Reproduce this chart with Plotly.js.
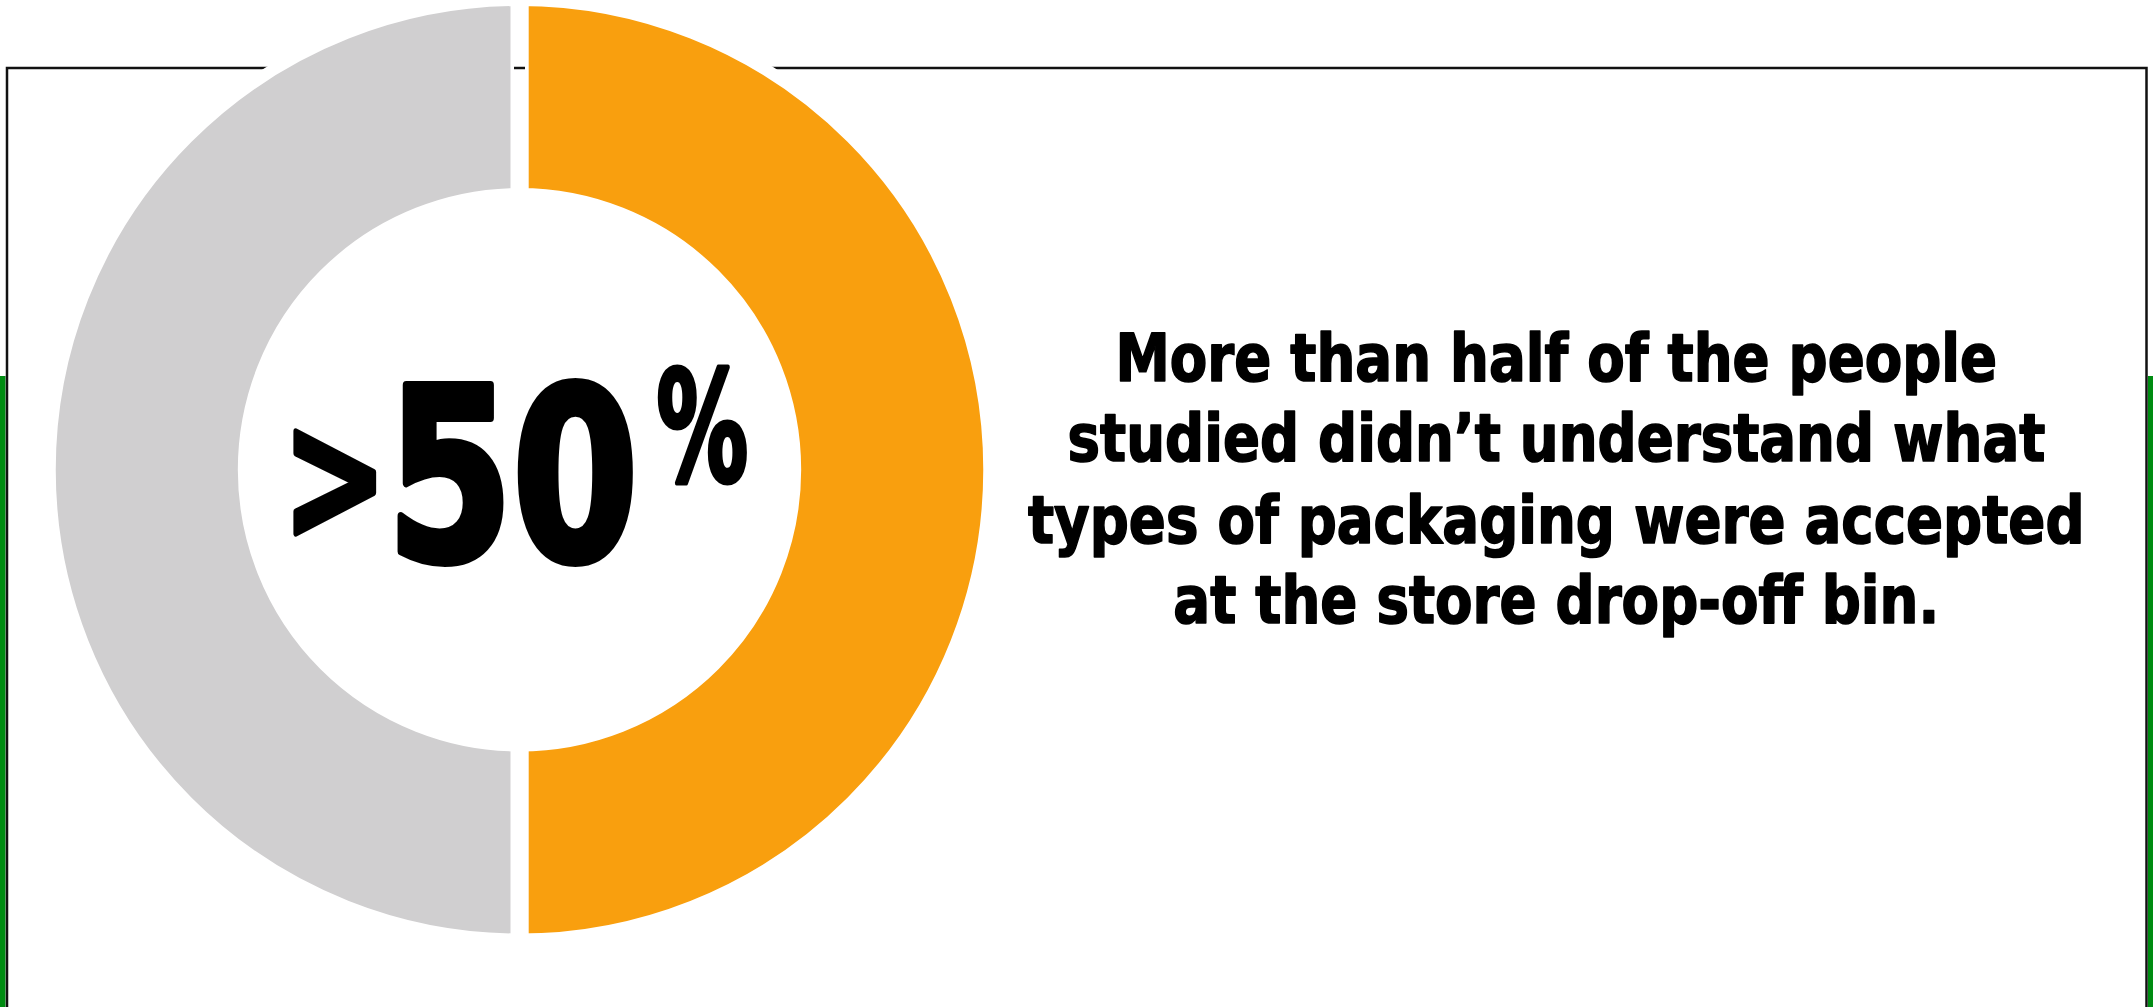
<!DOCTYPE html>
<html>
<head>
<meta charset="utf-8">
<script src="https://cdn.plot.ly/plotly-3.0.1.min.js"></script>
<style>
  html, body { margin: 0; padding: 0; background: #ffffff; overflow: hidden; }
  #chart { width: 2153px; height: 1007px; }
</style>
</head>
<body>
<div id="chart"></div>
<script>
// ---- data ----
const categories = ["Didn\u2019t understand accepted packaging", "Other"];
const values = [50, 50];
const sliceColors = ["#F99F0E", "#D0CFD0"];
const bigPrefix = ">";
const bigNumber = "50";
const bigUnit = "%";
const captionLines = [
  "More than half of the people",
  "studied didn\u2019t understand what",
  "types of packaging were accepted",
  "at the store drop-off bin."
];

// ---- layout geometry (pixels) ----
const W = 2153, H = 1007;
const cx = 519.5, cyTop = 467.5;
const STROKE = 12;
const R = 466 + STROKE / 2;
const px = x => x / W;
const py = y => 1 - y / H;   // y measured from top

const FONT = "'Liberation Sans Narrow', 'DejaVu Sans Condensed', 'DejaVu Sans', sans-serif";

const trace = {
  type: "pie",
  labels: categories,
  values: values,
  sort: false,
  direction: "clockwise",
  rotation: 0,
  hole: (283 - STROKE / 2) / R,
  textinfo: "none",
  hoverinfo: "none",
  showlegend: false,
  marker: { colors: sliceColors, line: { color: "#ffffff", width: STROKE } },
  domain: {
    x: [px(cx - R), px(cx + R)],
    y: [py(cyTop + R), py(cyTop - R)]
  }
};

// text effects per annotation: horizontal condense + stroke thickening
const captionCenters = [358, 439, 520, 600];
const textFx = [];
const annotations = captionLines.map((t, i) => {
  textFx.push({ sx: 0.92, sw: 1.6 });
  return {
    text: t,
    xref: "paper", yref: "paper",
    x: px(1556), y: py(captionCenters[i]),
    xanchor: "center", yanchor: "middle",
    showarrow: false,
    font: { family: FONT, size: 66, color: "#000000", weight: "bold" }
  };
});

annotations.push({
  text: bigPrefix,
  xref: "paper", yref: "paper",
  x: px(335), y: py(476),
  xanchor: "center", yanchor: "middle",
  showarrow: false,
  font: { family: FONT, size: 180, color: "#000000", weight: "bold" }
});
textFx.push({ sx: 0.77, sw: 6 });

annotations.push({
  text: bigNumber,
  xref: "paper", yref: "paper",
  x: px(512), y: py(476.5),
  xanchor: "center", yanchor: "middle",
  showarrow: false,
  font: { family: FONT, size: 239, color: "#000000", weight: "bold" }
});
textFx.push({ sx: 0.84, sw: 8 });

annotations.push({
  text: bigUnit,
  xref: "paper", yref: "paper",
  x: px(702), y: py(427),
  xanchor: "center", yanchor: "middle",
  showarrow: false,
  font: { family: FONT, size: 154, color: "#000000", weight: "bold" }
});
textFx.push({ sx: 0.66, sw: 5 });

const gapX0 = 510.5, gapX1 = 528.7;
const shapes = [
  // green side strips
  { type: "rect", xref: "paper", yref: "paper", layer: "below",
    x0: 0, x1: px(5.5), y0: py(1007), y1: py(376),
    fillcolor: "#008C12", line: { width: 0 } },
  { type: "rect", xref: "paper", yref: "paper", layer: "below",
    x0: px(2148), x1: 1, y0: py(1007), y1: py(376),
    fillcolor: "#008C12", line: { width: 0 } },
  // black frame
  { type: "rect", xref: "paper", yref: "paper", layer: "below",
    x0: px(7), x1: px(2146.5), y0: py(1015), y1: py(68),
    fillcolor: "rgba(0,0,0,0)", line: { color: "#111111", width: 2.5 } },
  // white gaps between the two halves of the ring
  { type: "rect", xref: "paper", yref: "paper", layer: "above",
    x0: px(gapX0), x1: px(gapX1), y0: py(200), y1: py(-5),
    fillcolor: "#ffffff", line: { width: 0 } },
  { type: "rect", xref: "paper", yref: "paper", layer: "above",
    x0: px(gapX0), x1: px(gapX1), y0: py(945), y1: py(735),
    fillcolor: "#ffffff", line: { width: 0 } },
  // frame line glimpse visible through the top gap
  { type: "line", xref: "paper", yref: "paper", layer: "above",
    x0: px(514), x1: px(525), y0: py(68), y1: py(68),
    line: { color: "#111111", width: 2.5 } }
];

const layout = {
  width: W, height: H,
  margin: { l: 0, r: 0, t: 0, b: 0, pad: 0 },
  paper_bgcolor: "#ffffff",
  plot_bgcolor: "#ffffff",
  showlegend: false,
  annotations: annotations,
  shapes: shapes
};

Plotly.newPlot("chart", [trace], layout, { displayModeBar: false, staticPlot: true }).then(() => {
  document.querySelectorAll("g.annotation").forEach(g => {
    const idx = +g.getAttribute("data-index");
    const fx = textFx[idx];
    if (!fx) return;
    const txt = g.querySelector("text.annotation-text");
    if (!txt) return;
    const bb = txt.getBBox();
    const c = bb.x + bb.width / 2;
    txt.setAttribute("transform", `translate(${c},0) scale(${fx.sx},1) translate(${-c},0)`);
    txt.style.stroke = "#000000";
    txt.style.strokeWidth = fx.sw + "px";
    txt.style.strokeLinejoin = "round";
  });
});
</script>
</body>
</html>
